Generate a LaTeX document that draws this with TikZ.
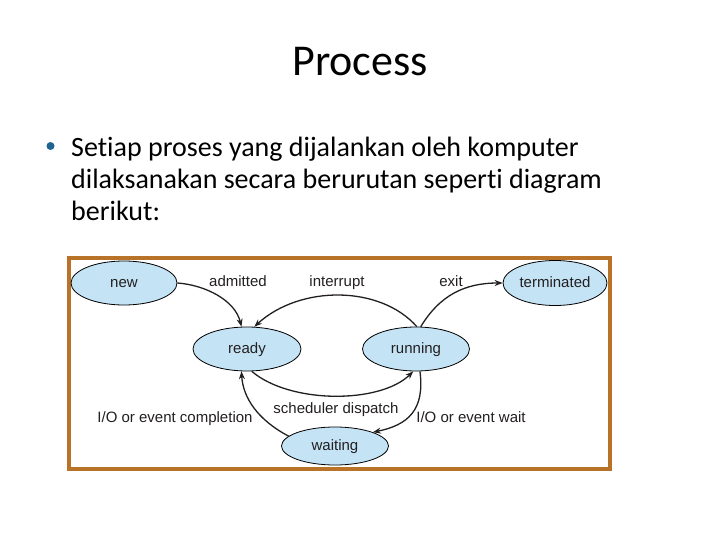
\documentclass[tikz,border=0pt]{standalone}
\usepackage{fontspec}
\setmainfont{Carlito}[Ligatures={NoCommon}]
\newfontfamily\arialf{Liberation Sans}
\usetikzlibrary{arrows.meta,shapes.geometric}
\definecolor{framec}{RGB}{185,115,40}
\definecolor{stfill}{RGB}{196,228,246}
\definecolor{bulletc}{RGB}{31,99,145}
\definecolor{dtext}{RGB}{35,31,32}
\begin{document}
\begin{tikzpicture}[x=1pt,y=-1pt,
  st/.style={ellipse,draw=black,line width=0.8pt,fill=stfill,inner sep=0pt,
    text height=11pt,text depth=3pt,
    font=\arialf\fontsize{15}{18}\selectfont,text=dtext},
  lbl/.style={font=\arialf\fontsize{15}{18}\selectfont,text=dtext,inner sep=0pt,anchor=base},
  arr/.style={line width=1.3pt,draw=dtext,-{Stealth[length=8pt,width=6pt]}},
  body/.style={font=\fontsize{28}{32}\selectfont,anchor=base west,inner sep=0pt}]
\useasboundingbox[fill=white] (0,0) rectangle (720,540);
% title and text
\node[font=\fontsize{44}{53}\selectfont,anchor=base] (title) at (360,76) {Process};
\fill[bulletc] (50.5,146) circle (4pt);
\node[body] (l1) at (71,157) {Setiap proses yang dijalankan oleh komputer};
\node[body] (l2) at (71,189) {dilaksanakan secara berurutan seperti diagram};
\node[body] (l3) at (71,221) {berikut:};
% frame
\draw[framec,line width=4pt] (69,258) rectangle (610,469);
% states
\node[st,minimum width=106pt,minimum height=44pt] (new) at (124,283) {new};
\node[st,minimum width=104pt,minimum height=45pt] (term) at (555,283) {terminated};
\node[st,minimum width=108pt,minimum height=44pt] (ready) at (247,349) {ready};
\node[st,minimum width=107pt,minimum height=44pt] (run) at (416,349) {running};
\node[st,minimum width=107pt,minimum height=38pt] (wait) at (335,446) {waiting};
% transitions
\draw[arr] (new.east) .. controls (205,285) and (235,300) .. (ready.104);
\draw[arr] (run.88) .. controls (380,285) and (300,285) .. (ready.72);
\draw[arr] (run.78) .. controls (440,295) and (465,283) .. (term.west);
\draw[arr] (ready.-78) .. controls (290,404) and (380,404) .. (run.-97);
\draw[arr] (run.-80) .. controls (425,410) and (408,425) .. (wait.20);
\draw[arr] (wait.168) .. controls (258,420) and (243,398) .. (ready.-104);
% labels
\node[lbl] (la) at (238,286) {admitted};
\node[lbl] (li) at (337,286) {interrupt};
\node[lbl] (le) at (451,286) {exit};
\node[lbl] (lc) at (175,422) {I/O or event completion};
\node[lbl] (ls) at (336,413) {scheduler dispatch};
\node[lbl] (lw) at (471,422) {I/O or event wait};
\end{tikzpicture}
\end{document}
